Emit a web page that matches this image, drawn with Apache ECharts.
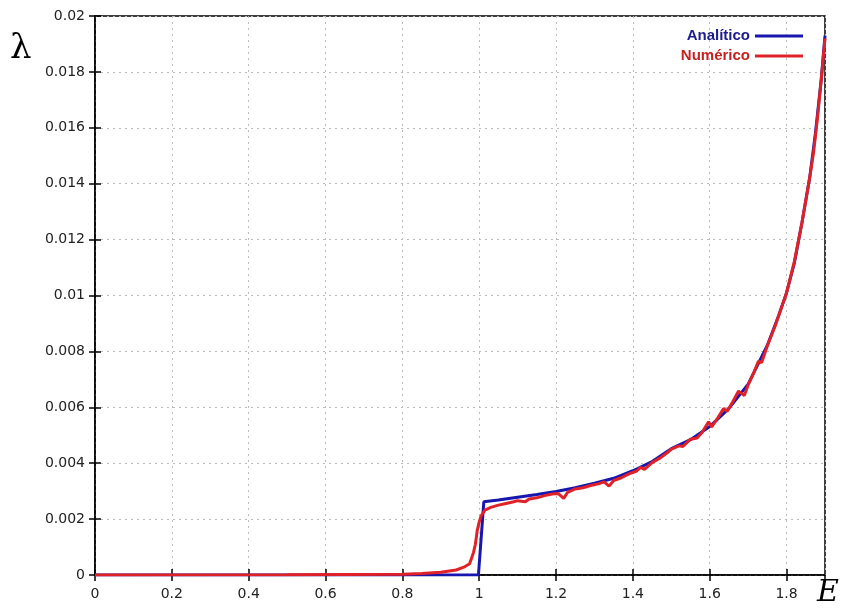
<!DOCTYPE html>
<html>
<head>
<meta charset="utf-8">
<script src="https://cdn.jsdelivr.net/npm/echarts@6/dist/echarts.min.js"></script>
<style>
  html, body { margin: 0; padding: 0; background: #fff; }
  #chart { width: 844px; height: 612px; }
</style>
</head>
<body>
<div id="chart"></div>
<script>
// curva analitica [E, lambda]
var analitico = [
  [0, 0], [0.998, 0], [1.012, 0.00262], [1.05, 0.00268], [1.1, 0.00278],
  [1.15, 0.00288], [1.2, 0.00299], [1.25, 0.00312], [1.3, 0.00328],
  [1.35, 0.00346], [1.4, 0.00373], [1.45, 0.00406], [1.5, 0.00452],
  [1.55, 0.00484], [1.6, 0.00531], [1.65, 0.00596], [1.7, 0.00683],
  [1.75, 0.00822], [1.78, 0.0093], [1.8, 0.0101], [1.82, 0.01115],
  [1.84, 0.0126], [1.86, 0.0142], [1.875, 0.0158], [1.89, 0.0177], [1.9, 0.0193]
];

// curva numerica [E, lambda]
var numerico = [
  [0, 0], [0.5, 0.00001], [0.8, 0.00003], [0.85, 0.00005], [0.9, 0.0001],
  [0.94, 0.00018], [0.96, 0.00028], [0.975, 0.0004], [0.985, 0.0008],
  [0.99, 0.0011], [0.995, 0.0016], [1.0, 0.0019], [1.005, 0.00212],
  [1.015, 0.00232], [1.03, 0.00242], [1.05, 0.0025], [1.07, 0.00256],
  [1.09, 0.00262], [1.1, 0.00266], [1.12, 0.00262], [1.13, 0.00272],
  [1.15, 0.00276], [1.17, 0.00284], [1.19, 0.0029], [1.205, 0.00292],
  [1.22, 0.00274], [1.23, 0.00296], [1.25, 0.00308], [1.27, 0.00312],
  [1.29, 0.0032], [1.31, 0.00326], [1.325, 0.00333], [1.338, 0.00318],
  [1.35, 0.00338], [1.37, 0.00348], [1.39, 0.00362], [1.41, 0.00372],
  [1.42, 0.00385], [1.43, 0.00378], [1.45, 0.00402], [1.47, 0.00418],
  [1.49, 0.00438], [1.5, 0.0045], [1.52, 0.00462], [1.53, 0.0046],
  [1.55, 0.00486], [1.567, 0.0049], [1.58, 0.0051], [1.597, 0.00548],
  [1.605, 0.0053], [1.62, 0.0056], [1.636, 0.00596], [1.645, 0.00585],
  [1.66, 0.0062], [1.675, 0.00658], [1.69, 0.00642], [1.7, 0.0068],
  [1.715, 0.00725], [1.727, 0.00765], [1.735, 0.0076], [1.75, 0.0082],
  [1.77, 0.0089], [1.78, 0.0093], [1.79, 0.0097], [1.8, 0.0101],
  [1.81, 0.01065], [1.82, 0.0112], [1.83, 0.0119], [1.84, 0.0126],
  [1.85, 0.0134], [1.86, 0.0142], [1.87, 0.0151], [1.88, 0.0163],
  [1.89, 0.0177], [1.9, 0.0192]
];

var xMin = 0, xMax = 1.9, xStep = 0.2;
var yMin = 0, yMax = 0.02, yStep = 0.002;

var labelFont = { color: "#222", fontSize: 14, fontFamily: "DejaVu Sans" };
var tickStyle = { inside: true, length: 6, lineStyle: { color: "#000", width: 1.5 } };
var dotted = { show: true, lineStyle: { color: "#bbb", type: [2, 4], width: 1 } };

var chart = echarts.init(document.getElementById("chart"));

var option = {
  animation: false,
  backgroundColor: "#fff",
  grid: {
    left: 95, right: 19, top: 16, bottom: 37,
    show: true, borderColor: "#000", borderWidth: 1.5
  },
  legend: {
    orient: "vertical",
    right: 36,
    top: 21,
    align: "right",
    icon: "rect",
    itemWidth: 48,
    itemHeight: 3,
    itemGap: 0,
    textStyle: { fontSize: 15, lineHeight: 20, fontWeight: "bold", fontFamily: "Liberation Sans" },
    data: [
      { name: "Analítico", textStyle: { color: "#1c1c8e" } },
      { name: "Numérico", textStyle: { color: "#c42222" } }
    ]
  },
  xAxis: [
    {
      type: "value", min: xMin, max: xMax, interval: xStep,
      axisLine: { show: true, lineStyle: { color: "#000", width: 1.5 } },
      axisTick: tickStyle,
      axisLabel: Object.assign({ margin: 12, showMaxLabel: false }, labelFont),
      splitLine: dotted
    },
    {
      type: "value", position: "top", min: xMin, max: xMax, interval: xStep,
      axisLine: { show: false },
      axisTick: tickStyle,
      axisLabel: { show: false },
      splitLine: { show: false }
    }
  ],
  yAxis: [
    {
      type: "value", min: yMin, max: yMax, interval: yStep,
      axisLine: { show: true, lineStyle: { color: "#000", width: 1.5 } },
      axisTick: tickStyle,
      axisLabel: Object.assign({ margin: 10 }, labelFont),
      splitLine: dotted
    },
    {
      type: "value", position: "right", min: yMin, max: yMax, interval: yStep,
      axisLine: { show: false },
      axisTick: tickStyle,
      axisLabel: { show: false },
      splitLine: { show: false }
    }
  ],
  graphic: [
    {
      type: "text", left: 10, top: 32,
      style: { text: "λ", fontSize: 34, fontFamily: "DejaVu Serif", fill: "#000" }
    },
    {
      type: "text", left: 817, top: 578,
      style: { text: "E", fontSize: 30, fontStyle: "italic", fontFamily: "DejaVu Serif", fill: "#000" }
    }
  ],
  series: [
    {
      name: "Analítico",
      type: "line",
      data: analitico,
      symbol: "none",
      color: "#1717b0",
      lineStyle: { width: 3, color: "#1717b0" },
      z: 2
    },
    {
      name: "Numérico",
      type: "line",
      data: numerico,
      symbol: "none",
      color: "#e02228",
      lineStyle: { width: 3, color: "#e02228" },
      z: 3
    }
  ]
};

chart.setOption(option);
</script>
</body>
</html>
